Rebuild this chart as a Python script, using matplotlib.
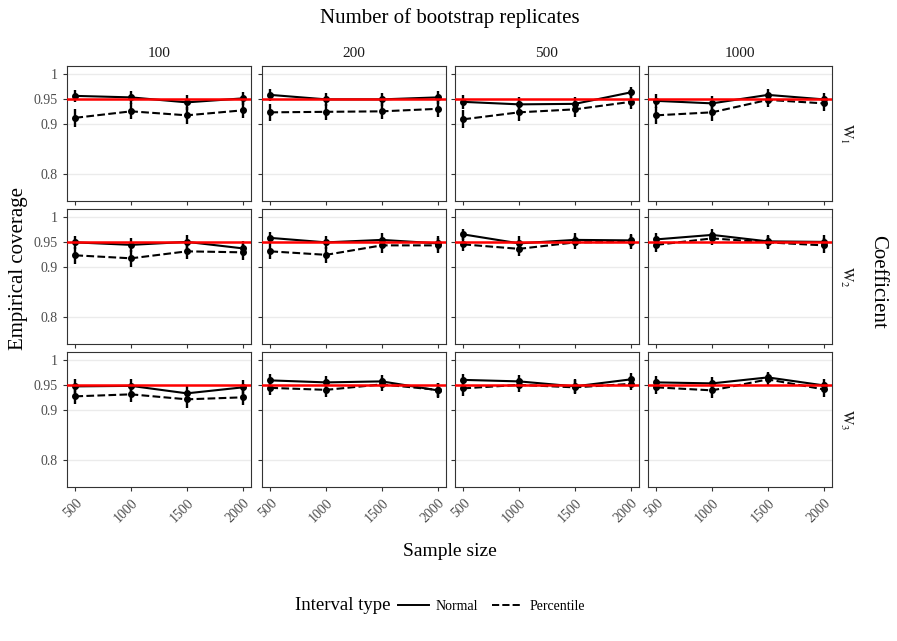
import numpy as np
import matplotlib
matplotlib.use("Agg")
import matplotlib.pyplot as plt
from matplotlib.lines import Line2D

plt.rcParams['font.family'] = ['Liberation Serif', 'DejaVu Serif']
plt.rcParams['mathtext.fontset'] = 'stix'

sample_sizes = [500, 1000, 1500, 2000]
replicates = ["100", "200", "500", "1000"]
coefs = [r"$\mathrm{W}_1$", r"$\mathrm{W}_2$", r"$\mathrm{W}_3$"]
n_sim = 1000

# coverage[row][col] -> list over sample sizes
normal = [
    [[0.956, 0.953, 0.943, 0.951], [0.958, 0.949, 0.949, 0.953],
     [0.944, 0.939, 0.940, 0.963], [0.946, 0.941, 0.958, 0.949]],
    [[0.949, 0.944, 0.950, 0.937], [0.958, 0.949, 0.954, 0.947],
     [0.965, 0.947, 0.954, 0.953], [0.955, 0.964, 0.951, 0.950]],
    [[0.947, 0.948, 0.933, 0.945], [0.959, 0.955, 0.957, 0.939],
     [0.960, 0.957, 0.947, 0.961], [0.955, 0.953, 0.965, 0.949]],
]
percentile = [
    [[0.912, 0.925, 0.917, 0.927], [0.923, 0.924, 0.925, 0.930],
     [0.909, 0.923, 0.929, 0.944], [0.917, 0.923, 0.948, 0.941]],
    [[0.923, 0.917, 0.931, 0.929], [0.931, 0.924, 0.943, 0.943],
     [0.945, 0.936, 0.949, 0.950], [0.944, 0.957, 0.949, 0.943]],
    [[0.927, 0.931, 0.921, 0.925], [0.944, 0.940, 0.951, 0.940],
     [0.943, 0.950, 0.945, 0.952], [0.945, 0.939, 0.961, 0.941]],
]

W, H = 897, 641
fig = plt.figure(figsize=(W / 100, H / 100), dpi=100)

col_left = [67, 262, 455, 648]
col_w = 184
row_top = [66, 209, 352]
row_h = 135


def px_axes(x, y, w, h):
    return fig.add_axes([x / W, 1 - (y + h) / H, w / W, h / H])


def ci(p):
    p = np.array(p)
    return 1.96 * np.sqrt(p * (1 - p) / n_sim)


for r in range(3):
    for c in range(4):
        ax = px_axes(col_left[c], row_top[r], col_w, row_h)
        for vals, ls in [(normal[r][c], '-'), (percentile[r][c], '--')]:
            ax.errorbar(sample_sizes, vals, yerr=ci(vals), color='black',
                        linestyle=ls, linewidth=1.5, marker='o', markersize=4,
                        elinewidth=1.7, capsize=0, zorder=3)
        ax.axhline(0.95, color='red', linewidth=1.8, zorder=4)
        ax.set_xlim(425, 2075)
        ax.set_ylim(0.745, 1.016)
        ax.set_yticks([0.8, 0.9, 0.95, 1])
        ax.set_xticks(sample_sizes)
        ax.grid(axis='y', color='#ebebeb', linewidth=1, zorder=0)
        ax.set_axisbelow(True)
        for s in ax.spines.values():
            s.set_color('#333333')
            s.set_linewidth(0.8)
        ax.tick_params(colors='#333333', length=3, width=0.8, labelsize=10)
        if c == 0:
            ax.set_yticklabels(['0.8', '0.9', '0.95', '1'], color='#4d4d4d')
        else:
            ax.set_yticklabels([])
        if r == 2:
            ax.set_xticklabels([str(s) for s in sample_sizes], rotation=45,
                               ha='right', va='top', rotation_mode='anchor',
                               color='#4d4d4d')
        else:
            ax.set_xticklabels([])
        if r == 0:
            ax.text(0.5, 1.045, replicates[c], transform=ax.transAxes,
                    ha='center', va='bottom', fontsize=11, color='#1a1a1a')
        if c == 3:
            ax.text(1.03, 0.5, coefs[r], transform=ax.transAxes, rotation=-90,
                    ha='left', va='center', fontsize=11, color='#1a1a1a')

fig.text(450 / W, 1 - 18 / H, "Number of bootstrap replicates", ha='center',
         va='center', fontsize=15)
fig.text(878 / W, 1 - 282 / H, "Coefficient", ha='center', va='center',
         rotation=-90, fontsize=15)
fig.text(18 / W, 1 - 268 / H, "Empirical coverage", ha='center', va='center',
         rotation=90, fontsize=15)
fig.text(450 / W, 1 - 551 / H, "Sample size", ha='center', va='center',
         fontsize=14)

# legend: title as separate text on the left
fig.text(295 / W, 1 - 606 / H, "Interval type", ha='left', va='center',
         fontsize=13.5)
handles = [Line2D([], [], color='black', linestyle='-', linewidth=1.4),
           Line2D([], [], color='black', linestyle='--', linewidth=1.4)]
fig.legend(handles, ["Normal", "Percentile"], loc='center left',
           bbox_to_anchor=(398 / W, 1 - 606 / H), ncol=2, frameon=False,
           fontsize=10, handlelength=2.2, columnspacing=1.0,
           handletextpad=0.5, borderpad=0, borderaxespad=0)

fig.savefig("out.png", dpi=100)
